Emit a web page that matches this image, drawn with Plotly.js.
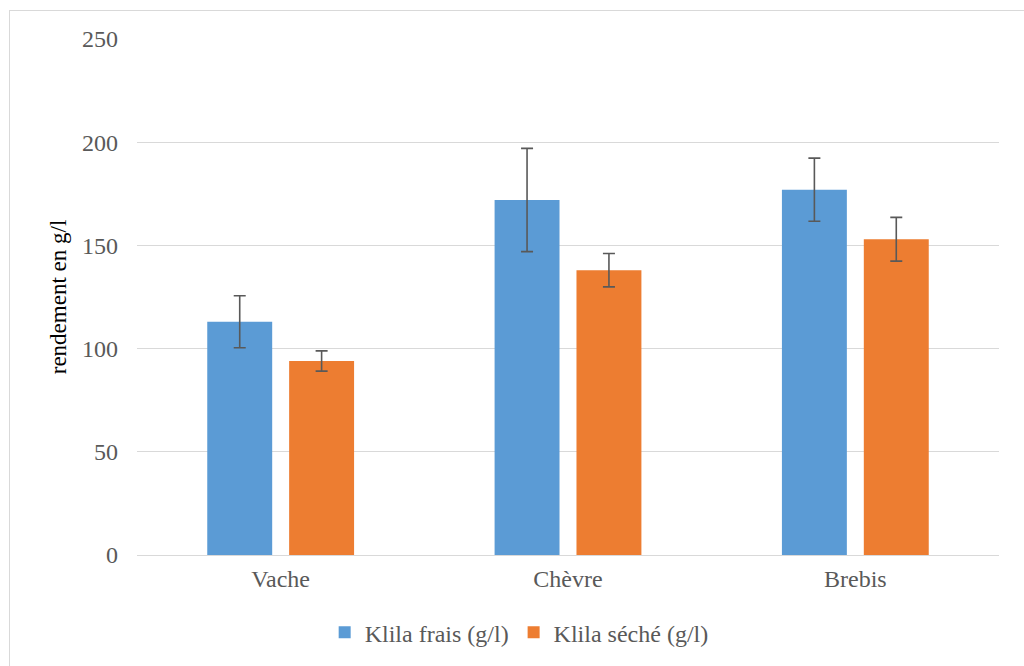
<!DOCTYPE html>
<html>
<head>
<meta charset="utf-8">
<script src="https://cdn.plot.ly/plotly-3.0.1.min.js"></script>
<style>
  html, body { margin: 0; padding: 0; background: #ffffff; }
  #wrap { position: relative; width: 1024px; height: 666px; overflow: hidden; }
  #chart { width: 1024px; height: 666px; }
  #frame { position: absolute; left: 9px; top: 10px; width: 1040px; height: 700px;
           border: 1px solid #d9d9d9; pointer-events: none; box-sizing: border-box; }
</style>
</head>
<body>
<div id="wrap">
  <div id="chart"></div>
  <div id="frame"></div>
</div>
<script>
// Data
const categories = ["Vache", "Chèvre", "Brebis"];
const seriesNames = ["Klila frais (g/l)", "Klila séché (g/l)"];
const frais = [113, 172, 177];
const fraisErr = [12.6, 25, 15.3];
const seche = [94, 138, 153];
const secheErr = [4.9, 8.1, 10.6];
const yTickVals = [0, 50, 100, 150, 200, 250];
const yTitle = "rendement en g/l";

const font = "Times New Roman, Liberation Serif, serif";
const grey = "#595959";

const traces = [
  {
    type: "bar", name: seriesNames[0], x: categories, y: frais,
    marker: { color: "#5B9BD5" },
    error_y: { type: "data", array: fraisErr, visible: true, color: grey, thickness: 1.6, width: 6 },
    hoverinfo: "none"
  },
  {
    type: "bar", name: seriesNames[1], x: categories, y: seche,
    marker: { color: "#ED7D31" },
    error_y: { type: "data", array: secheErr, visible: true, color: grey, thickness: 1.6, width: 6 },
    hoverinfo: "none"
  }
];

const layout = {
  width: 1024, height: 666,
  margin: { l: 137, r: 25, t: 39, b: 111, autoexpand: false },
  paper_bgcolor: "#ffffff", plot_bgcolor: "#ffffff",
  font: { family: font, size: 24, color: grey },
  barmode: "group", bargap: 0.43, bargroupgap: 0.207,
  showlegend: true,
  legend: {
    orientation: "h", xref: "container", yref: "container",
    x: 0.507, xanchor: "center", y: 0.05, yanchor: "middle",
    font: { family: font, size: 24, color: grey },
    itemwidth: 30, traceorder: "normal"
  },
  xaxis: {
    type: "category", showgrid: false, zeroline: false,
    showline: false, ticks: "", ticklabelstandoff: 7,
    tickfont: { family: font, size: 24, color: grey }
  },
  yaxis: {
    range: [0, 250], tickvals: yTickVals, showgrid: true,
    gridcolor: "#d9d9d9", gridwidth: 1, zeroline: true, zerolinecolor: "#d9d9d9", zerolinewidth: 1,
    showline: false, ticks: "", ticklabelstandoff: 18,
    tickfont: { family: font, size: 24, color: grey },
    title: { text: yTitle, font: { family: font, size: 23, color: "#000000" }, standoff: 8 }
  }
};

Plotly.newPlot("chart", traces, layout, { staticPlot: true, displayModeBar: false });
</script>
</body>
</html>
